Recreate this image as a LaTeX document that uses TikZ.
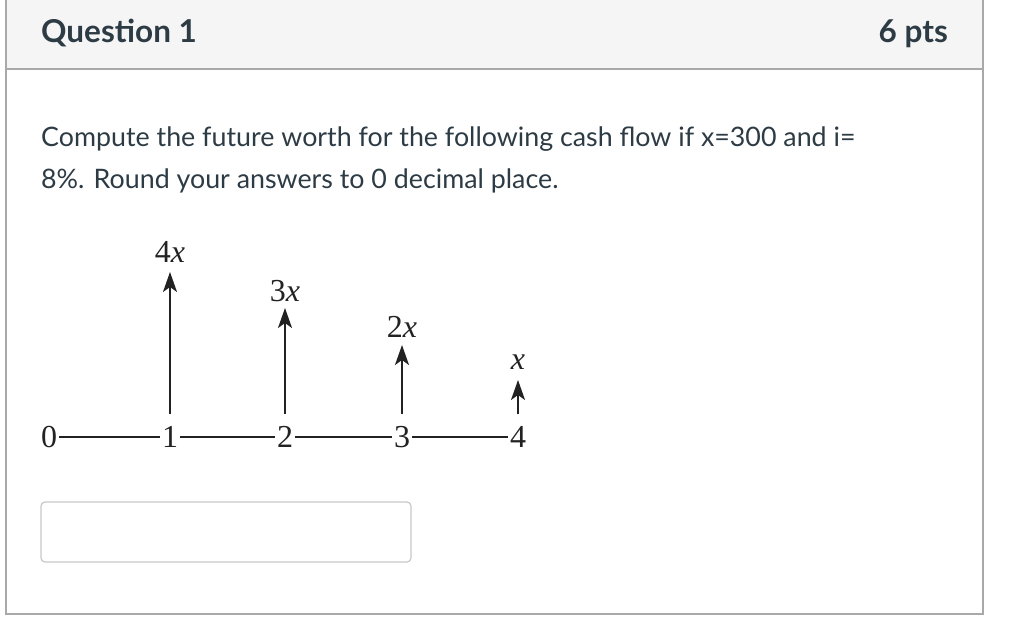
\documentclass[tikz,border=0pt]{standalone}
\usepackage{fontspec}
\setmainfont{Lato}
\newfontfamily\timesf{Liberation Serif}
\usetikzlibrary{arrows.meta}
\definecolor{canvastext}{HTML}{2D3B45}
\definecolor{cardborder}{HTML}{A9A9A9}
\definecolor{headfill}{HTML}{F5F5F5}
\definecolor{inputborder}{HTML}{C8C8C8}
\definecolor{ink}{HTML}{222222}
\tikzset{
  headtxt/.style={anchor=base west, inner sep=0pt, text=canvastext, font=\fontsize{31.5}{36}\selectfont\bfseries},
  bodytxt/.style={anchor=base west, inner sep=0pt, text=canvastext, font=\fontsize{26.8}{32}\selectfont},
  tick/.style={inner sep=0pt, text=ink, font=\timesf\fontsize{32}{36}\selectfont},
  amount/.style={inner sep=0pt, text=ink, font=\timesf\fontsize{32}{36}\selectfont},
  axisline/.style={draw=ink, line width=1.3pt, shorten <=2pt, shorten >=2pt},
  cashflow/.style={draw=ink, line width=1.8pt, -{Stealth[length=20pt,width=14pt,inset=5pt]}},
}
\begin{document}
\begin{tikzpicture}[x=1pt,y=-1pt]
\useasboundingbox (0,0) rectangle (1024,644);
% card
\fill[headfill] (6,-2) rectangle (983,69);
\draw[cardborder, line width=1.6pt] (6,-2) rectangle (983,614);
\draw[cardborder, line width=1.6pt] (6,69) -- (983,69);
\node[headtxt] (title) at (41,43) {Question 1};
\node[headtxt, anchor=base east] (pts) at (948,43) {6 pts};
% question text
\node[bodytxt] (line1) at (41,147) {Compute the future worth for the following cash flow if x=300 and i=};
\node[bodytxt] (line2) at (41,189) {8\%. Round your answers to 0 decimal place.};
% timeline
\node[tick] (t0) at (49,437) {0};
\node[tick] (t1) at (170,437) {1};
\node[tick] (t2) at (285,437) {2};
\node[tick] (t3) at (402,437) {3};
\node[tick] (t4) at (518,437) {4};
\draw[axisline] (t0.east) -- (t1.west);
\draw[axisline] (t1.east) -- (t2.west);
\draw[axisline] (t2.east) -- (t3.west);
\draw[axisline] (t3.east) -- (t4.west);
% amounts
\node[amount] (c1) at (170,252) {4\textit{x}};
\node[amount] (c2) at (285,291) {3\textit{x}};
\node[amount] (c3) at (402,327) {2\textit{x}};
\node[amount] (c4) at (518,362) {\textit{x}};
\coordinate (h1) at (170,272);
\coordinate (h2) at (285,308);
\coordinate (h3) at (402,345);
\coordinate (h4) at (518,380);
\draw[cashflow] ([yshift=12pt]t1.north) -- (h1);
\draw[cashflow] ([yshift=12pt]t2.north) -- (h2);
\draw[cashflow] ([yshift=12pt]t3.north) -- (h3);
\draw[cashflow] ([yshift=12pt]t4.north) -- (h4);
% answer box
\draw[inputborder, line width=1.2pt, rounded corners=4pt, fill=white] (41,502) rectangle (411,562);
\node[inner sep=0pt] (answer) at (226,532) {};
\end{tikzpicture}
\end{document}
